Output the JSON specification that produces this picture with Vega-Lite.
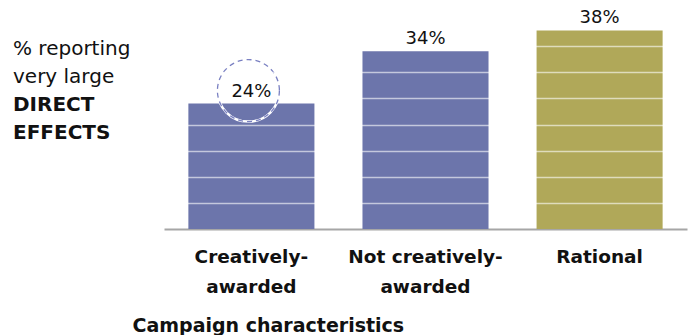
{
  "$schema": "https://vega.github.io/schema/vega-lite/v6.json",
  "width": 523,
  "height": 209,
  "autosize": {"type": "none"},
  "padding": {"left": 164, "top": 20, "right": 5, "bottom": 106},
  "background": "white",
  "config": {"view": {"stroke": null}, "font": "DejaVu Sans"},
  "title": {
    "text": ["% reporting", "very large"],
    "subtitle": ["DIRECT", "EFFECTS"],
    "anchor": "start",
    "frame": "group",
    "orient": "top",
    "offset": 0,
    "dx": -151,
    "dy": 134,
    "font": "DejaVu Sans",
    "fontSize": 20,
    "fontWeight": "normal",
    "color": "#111111",
    "lineHeight": 28.3,
    "subtitleFont": "DejaVu Sans",
    "subtitleFontSize": 20,
    "subtitleFontWeight": "bold",
    "subtitleColor": "#111111",
    "subtitleLineHeight": 28.3,
    "subtitlePadding": 8
  },
  "data": {
    "values": [
      {"campaign": "Creatively-awarded", "share": 0.24},
      {"campaign": "Not creatively-awarded", "share": 0.34},
      {"campaign": "Rational", "share": 0.38}
    ]
  },
  "encoding": {
    "x": {
      "field": "campaign",
      "type": "nominal",
      "sort": null,
      "scale": {"paddingInner": 0.276, "paddingOuter": 0.14},
      "axis": {
        "domainColor": "#a6a6a6",
        "domainWidth": 2,
        "ticks": false,
        "grid": false,
        "labelAngle": 0,
        "labelFont": "DejaVu Sans",
        "labelFontSize": 18.5,
        "labelFontWeight": "bold",
        "labelColor": "#111111",
        "labelPadding": 18,
        "labelLineHeight": 30.5,
        "labelExpr": "indexof(datum.value, '-') > 0 ? [slice(datum.value, 0, indexof(datum.value, '-') + 1), slice(datum.value, indexof(datum.value, '-') + 1)] : datum.value",
        "title": "Campaign characteristics",
        "titleFont": "DejaVu Sans",
        "titleFontSize": 19,
        "titleFontWeight": "bold",
        "titleColor": "#111111",
        "titleAnchor": "start",
        "titleAlign": "left",
        "titleBaseline": "alphabetic",
        "titleX": -32,
        "titleY": 102
      }
    },
    "y": {
      "field": "share",
      "type": "quantitative",
      "scale": {"domain": [0, 0.4], "nice": false},
      "axis": {
        "grid": true,
        "gridColor": "white",
        "gridOpacity": 0.6,
        "gridWidth": 1.5,
        "zindex": 1,
        "domain": false,
        "labels": false,
        "ticks": false,
        "title": null,
        "values": [0.05, 0.1, 0.15, 0.2, 0.25, 0.3, 0.35]
      }
    }
  },
  "layer": [
    {
      "mark": {"type": "bar"},
      "encoding": {
        "color": {
          "field": "campaign",
          "type": "nominal",
          "scale": {
            "domain": ["Creatively-awarded", "Not creatively-awarded", "Rational"],
            "range": ["#6c75ab", "#6c75ab", "#b0a859"]
          },
          "legend": null
        }
      }
    },
    {
      "transform": [{"filter": "datum.campaign == 'Creatively-awarded'"}],
      "mark": {"type": "point", "shape": "circle", "size": 3844, "filled": false, "stroke": "white", "strokeWidth": 2.5, "opacity": 1, "yOffset": -13, "xOffset": -3}
    },
    {
      "transform": [{"filter": "datum.campaign == 'Creatively-awarded'"}],
      "mark": {"type": "point", "shape": "circle", "size": 3844, "filled": false, "stroke": "#7a80c2", "strokeWidth": 1.3, "strokeDash": [5, 4], "opacity": 1, "yOffset": -13, "xOffset": -3}
    },
    {
      "mark": {"type": "text", "dy": -7, "baseline": "alphabetic", "fontSize": 18, "font": "DejaVu Sans", "color": "#111111"},
      "encoding": {"text": {"field": "share", "type": "quantitative", "format": ".0%"}}
    }
  ]
}
